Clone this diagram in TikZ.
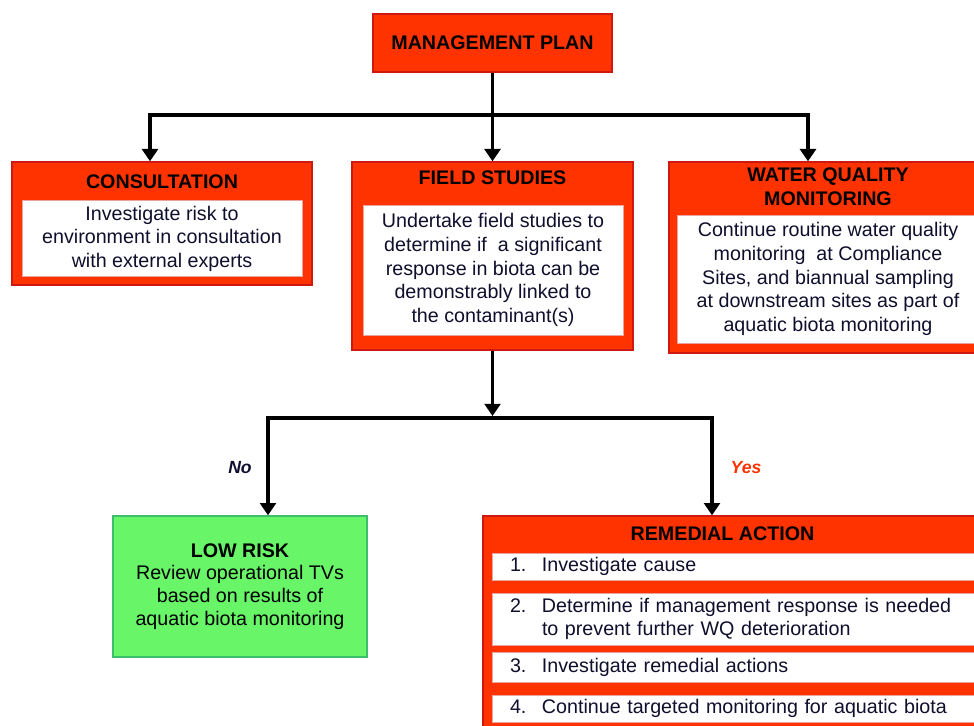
\documentclass[tikz,border=0pt]{standalone}
\usepackage{fontspec}
\setmainfont{Liberation Sans}
\usetikzlibrary{arrows.meta,positioning}
\definecolor{planred}{RGB}{255,51,0}
\definecolor{edgered}{RGB}{205,25,15}
\definecolor{riskgreen}{RGB}{104,245,104}
\definecolor{edgegreen}{RGB}{60,190,110}
\definecolor{inkblue}{RGB}{15,15,45}
\begin{document}
\begin{tikzpicture}[
        redbox/.style={draw=edgered, fill=planred, line width=0.8pt, inner sep=0pt},
        whitebox/.style={draw=edgered!40, fill=white, line width=0.4pt, align=center, inner sep=0pt,
            font=\fontsize{11.2}{13.4}\selectfont, text=inkblue},
        itembox/.style={whitebox, align=left, inner xsep=0.36cm, text width=9.14cm},
        heading/.style={font=\bfseries\fontsize{11.2}{13.6}\selectfont, align=center},
        arr/.style={line width=2.2pt, -{Triangle[width=9pt,length=7pt]}},
        trunk/.style={line width=2.2pt}
    ]
        \clip (0,0) rectangle (19.48,-14.52);
        
        \node[redbox, heading, minimum width=4.78cm, minimum height=1.16cm] (plan) at (9.85,-0.86) {MANAGEMENT PLAN};
        
        \node[redbox, minimum width=6.0cm, minimum height=2.46cm] (cons) at (3.24,-4.47) {};
        \node[heading] (consT) at (3.24,-3.64) {CONSULTATION};
        \node[whitebox, minimum width=5.6cm, minimum height=1.52cm] (consB) at (3.24,-4.77)
            {Investigate risk to\\environment in consultation\\with external experts};
        
        \node[redbox, minimum width=5.62cm, minimum height=3.76cm] (field) at (9.85,-5.12) {};
        \node[heading] (fieldT) at (9.85,-3.56) {FIELD STUDIES};
        \node[whitebox, minimum width=5.2cm, minimum height=2.6cm] (fieldB) at (9.86,-5.4)
            {Undertake field studies to\\determine if\ \ a significant\\response in biota can be\\demonstrably linked to\\the contaminant(s)};
        
        \node[redbox, minimum width=6.36cm, minimum height=3.82cm] (wq) at (16.56,-5.15) {};
        \node[heading] (wqT) at (16.56,-3.74) {WATER QUALITY\\MONITORING};
        \node[whitebox, minimum width=6.04cm, minimum height=2.56cm] (wqB) at (16.56,-5.58)
            {Continue routine water quality\\monitoring\ \ at Compliance\\Sites, and biannual sampling\\at downstream sites as part of\\aquatic biota monitoring};
        
        \node[draw=edgegreen, fill=riskgreen, line width=0.8pt, align=center, minimum width=5.08cm, minimum height=2.82cm,
            font=\fontsize{11.2}{13}\selectfont] (risk) at (4.8,-11.73)
            {\textbf{LOW RISK}\\Review operational TVs\\based on results of\\aquatic biota monitoring};
        
        \node[redbox, minimum width=10.14cm, minimum height=4.48cm] (remedy) at (14.73,-12.56) {};
        \node[heading] (remedyT) at (14.45,-10.68) {REMEDIAL ACTION};
        \node[itembox, minimum height=0.54cm] (step1) at (14.77,-11.33)
            {\makebox[0.64cm][l]{1.}Investigate cause};
        \node[itembox, minimum height=1.04cm] (step2) at (14.77,-12.38)
            {\makebox[0.64cm][l]{2.}Determine if management response is needed\\\hspace*{0.64cm}to prevent further WQ deterioration};
        \node[itembox, minimum height=0.6cm] (step3) at (14.77,-13.34)
            {\makebox[0.64cm][l]{3.}Investigate remedial actions};
        \node[itembox, minimum height=0.54cm] (step4) at (14.77,-14.17)
            {\makebox[0.64cm][l]{4.}Continue targeted monitoring for aquatic biota};
        
        \coordinate (fork) at (9.85,-2.3);
        \draw[trunk] (plan.south) -- (fork);
        \draw[arr] (fork) -| ([xshift=-0.24cm]cons.north);
        \draw[arr] (fork) -- (field.north);
        \draw[arr] (fork) -| ([xshift=-0.4cm]wq.north);
        
        \coordinate (split) at (9.85,-8.36);
        \draw[arr] (field.south) -- ([yshift=1.1pt]split);
        \draw[arr] (split) -| ([xshift=0.56cm]risk.north);
        \draw[arr] (split) -| ([xshift=-0.49cm]remedy.north);
        
        \node[font=\bfseries\itshape, text=inkblue] (no) at (4.8,-9.36) {No};
        \node[font=\bfseries\itshape, text=planred] (yes) at (14.92,-9.36) {Yes};
\end{tikzpicture}
\end{document}
